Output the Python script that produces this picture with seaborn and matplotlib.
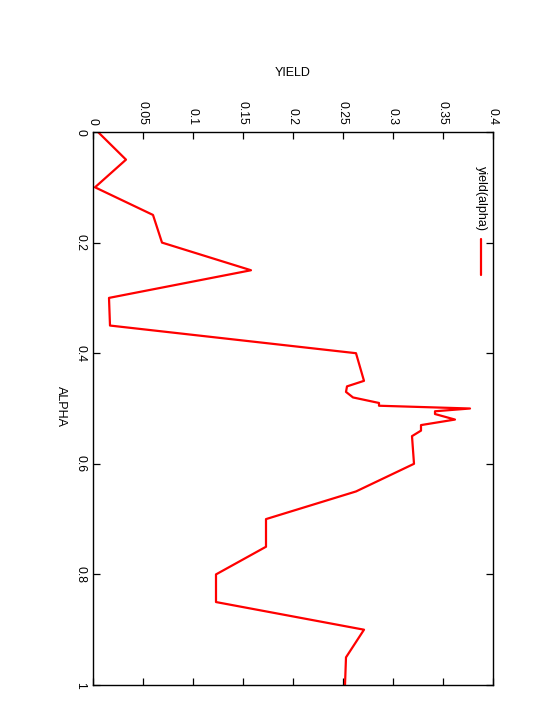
import matplotlib
matplotlib.use("Agg")
import matplotlib.pyplot as plt
from matplotlib.lines import Line2D
import numpy as np
import pandas as pd
import seaborn as sns

# Data (gnuplot chart, rotated 90 degrees clockwise)
alpha = [0, 0.05, 0.1, 0.15, 0.2, 0.25, 0.3, 0.35, 0.4, 0.45, 0.46, 0.47, 0.48,
         0.49, 0.495, 0.5, 0.505, 0.51, 0.52, 0.53, 0.54, 0.55, 0.6, 0.65, 0.7,
         0.75, 0.8, 0.85, 0.9, 0.95, 1.0]
yield_values = [0.005, 0.033, 0.002, 0.060, 0.069, 0.158, 0.016, 0.017, 0.263,
                0.271, 0.254, 0.253, 0.260, 0.286, 0.286, 0.377, 0.342, 0.342,
                0.362, 0.328, 0.328, 0.319, 0.321, 0.263, 0.173, 0.173, 0.123,
                0.123, 0.271, 0.253, 0.252]
yield_ticks = [0, 0.05, 0.1, 0.15, 0.2, 0.25, 0.3, 0.35, 0.4]
yield_tick_labels = ["0", "0.05", "0.1", "0.15", "0.2", "0.25", "0.3", "0.35", "0.4"]
alpha_ticks = [0, 0.2, 0.4, 0.6, 0.8, 1.0]
alpha_tick_labels = ["0", "0.2", "0.4", "0.6", "0.8", "1"]
series_name = "yield(alpha)"

sns.set_theme(style="ticks")
plt.rcParams["font.family"] = ["Liberation Sans", "DejaVu Sans"]

W, H = 554, 717
fig = plt.figure(figsize=(W / 100, H / 100), dpi=100)
fig.patch.set_facecolor("white")

ax_left, ax_right, ax_top, ax_bottom = 93, 493, 132, 685
ax = fig.add_axes([ax_left / W, 1 - ax_bottom / H,
                   (ax_right - ax_left) / W, (ax_bottom - ax_top) / H])
ax.set_facecolor("white")

df = pd.DataFrame({"ALPHA": alpha, "YIELD": yield_values})
sns.lineplot(data=df, x="YIELD", y="ALPHA", orient="y", sort=False,
             estimator=None, color="#ff0000", linewidth=1.6, ax=ax, legend=False)

ax.set_xlim(0, 0.4)
ax.set_ylim(1, 0)
ax.set_xlabel("")
ax.set_ylabel("")

ax.set_xticks(yield_ticks)
ax.set_xticklabels(yield_tick_labels, rotation=-90)
ax.set_yticks(alpha_ticks)
ax.set_yticklabels(alpha_tick_labels, rotation=-90, va="center")

ax.tick_params(axis="both", direction="in", length=5, width=0.9, color="black",
               labelsize=8.7, labelcolor="black",
               top=True, bottom=True, left=True, right=True)
ax.tick_params(axis="x", labeltop=True, labelbottom=False, pad=5)
ax.tick_params(axis="y", labelleft=True, labelright=False, pad=5)
for lbl in ax.get_xticklabels():
    lbl.set_va("bottom")
    lbl.set_ha("center")

for sp in ax.spines.values():
    sp.set_color("black")
    sp.set_linewidth(1.0)
    sp.set_visible(True)

# Axis titles
fig.text(293 / W, 1 - 73 / H, "YIELD", ha="center", va="center",
         fontsize=9, color="black")
fig.text(61 / W, 1 - 406 / H, "ALPHA", ha="center", va="center",
         rotation=-90, fontsize=9, color="black")

# Legend (rotated, as in the reference)
fig.text(481 / W, 1 - 198 / H, series_name, ha="center", va="center",
         rotation=-90, fontsize=9, color="black")
fig.add_artist(Line2D([481 / W, 481 / W], [1 - 239 / H, 1 - 275 / H],
                      transform=fig.transFigure, color="#ff0000", linewidth=1.6))

fig.savefig("out.png", dpi=100, facecolor="white")
